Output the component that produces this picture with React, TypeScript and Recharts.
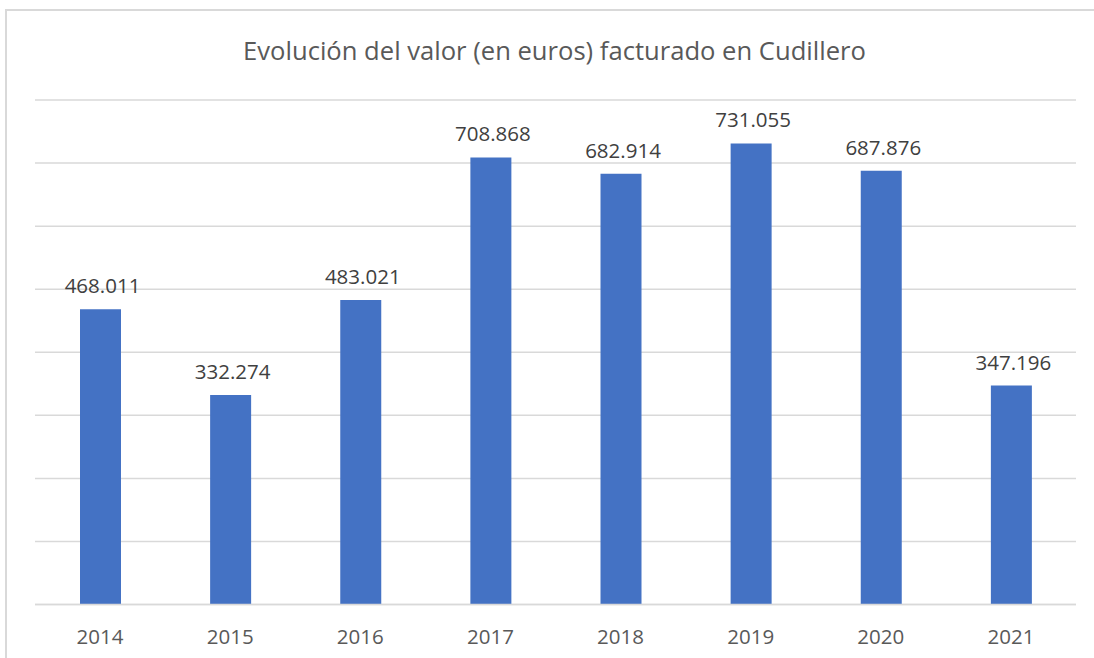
import React from 'react';
import { BarChart, Bar, XAxis, YAxis, CartesianGrid, LabelList } from 'recharts';

const years = ['2014', '2015', '2016', '2017', '2018', '2019', '2020', '2021'];
const values = [468011, 332274, 483021, 708868, 682914, 731055, 687876, 347196];
const yTicks = [0, 100000, 200000, 300000, 400000, 500000, 600000, 700000, 800000];

const data = years.map((year, i) => ({ year, value: values[i] }));

const formatEuros = (v: number) => String(v).replace(/\B(?=(\d{3})+(?!\d))/g, '.');

const FONT = '"Open Sans", "Noto Sans", sans-serif';

const ValueLabel = (props: any) => {
  const { x, y, width, value } = props;
  return (
    <text
      x={Number(x) + Number(width) / 2 + 2}
      y={Number(y) - 16}
      textAnchor="middle"
      fill="#404040"
      fontSize={20.5}
      fontFamily={FONT}
    >
      {formatEuros(Number(value))}
    </text>
  );
};

export default function App() {
  return (
    <div style={{ position: 'absolute', left: 0, top: 0, width: 1094, height: 658, background: '#fff', overflow: 'hidden' }}>
      <div
        style={{
          position: 'absolute',
          left: 5,
          top: 9,
          width: 1200,
          height: 800,
          border: '2px solid #d9d9d9',
        }}
      />
      <div
        style={{
          position: 'absolute',
          left: 0,
          top: 33,
          width: 1109,
          textAlign: 'center',
          fontFamily: FONT,
          fontSize: 25.6,
          color: '#595959',
          lineHeight: '36px',
        }}
      >
        Evolución del valor (en euros) facturado en Cudillero
      </div>
      <div style={{ position: 'absolute', left: 0, top: 0 }}>
        <BarChart
          width={1094}
          height={658}
          data={data}
          margin={{ top: 100, right: 18, left: 35, bottom: 23.5 }}
          barSize={41}
        >
          <CartesianGrid vertical={false} stroke="#d9d9d9" strokeWidth={1.5} />
          <YAxis hide domain={[0, 800000]} ticks={yTicks} />
          <XAxis
            dataKey="year"
            height={30}
            axisLine={{ stroke: '#d9d9d9', strokeWidth: 1.5 }}
            tickLine={false}
            tickSize={0}
            tickMargin={25}
            tick={{ fill: '#595959', fontSize: 20.5, fontFamily: FONT }}
            interval={0}
          />
          <Bar dataKey="value" fill="#4472c4" isAnimationActive={false}>
            <LabelList dataKey="value" content={ValueLabel} />
          </Bar>
        </BarChart>
      </div>
    </div>
  );
}
